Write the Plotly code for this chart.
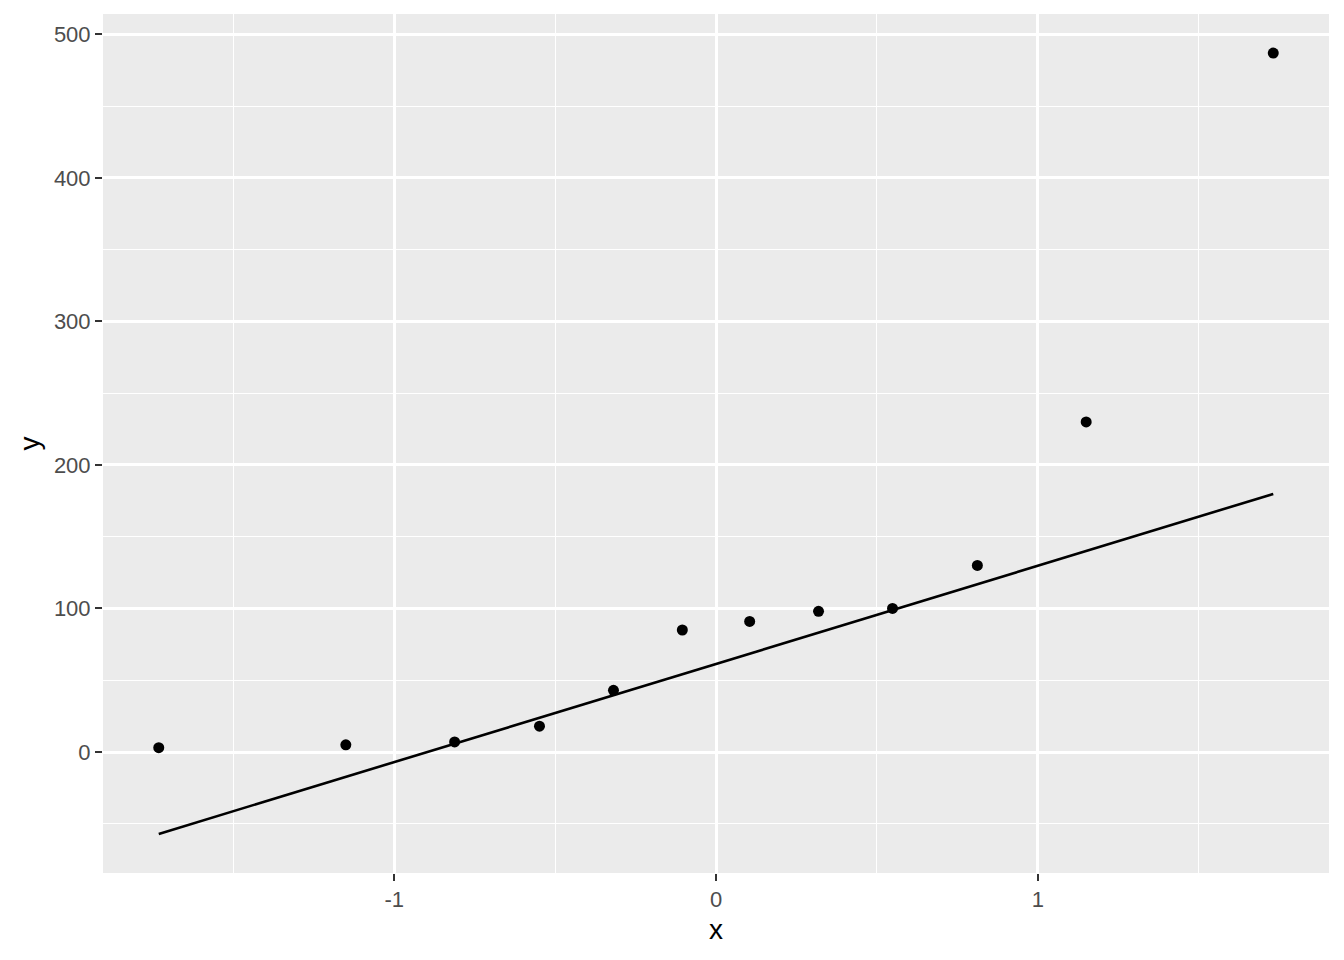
import plotly.graph_objects as go

theoretical = [-1.7317, -1.1503, -0.8122, -0.5485, -0.3186, -0.1046,
               0.1046, 0.3186, 0.5485, 0.8122, 1.1503, 1.7317]
sample = [3, 5, 7, 18, 43, 85, 91, 98, 100, 130, 230, 487]
line_x = [-1.7317, 1.7317]
line_y = [-57.08, 179.83]

x_ticks = [-1, 0, 1]
y_ticks = [0, 100, 200, 300, 400, 500]

FONT = "Liberation Sans, Arial"

fig = go.Figure()
fig.add_trace(go.Scatter(x=theoretical, y=sample, mode="markers",
                         marker=dict(color="black", size=11), showlegend=False))
fig.add_trace(go.Scatter(x=line_x, y=line_y, mode="lines",
                         line=dict(color="black", width=2.6), showlegend=False))

axis_common = dict(
    showgrid=True, gridcolor="white", gridwidth=2.6,
    zeroline=False, showline=False,
    ticks="outside", ticklen=7, tickwidth=2, tickcolor="#333333",
    tickfont=dict(family=FONT, size=22, color="#4D4D4D"),
)

fig.update_xaxes(range=[-1.9049, 1.9049], tickvals=x_ticks,
                 ticktext=[str(v) for v in x_ticks],
                 title=dict(text="x", font=dict(family=FONT, size=28, color="black"), standoff=7),
                 minor=dict(showgrid=True, gridcolor="white", gridwidth=1.3,
                            ticks="", tickvals=[-1.5, -0.5, 0.5, 1.5]),
                 **axis_common)
fig.update_yaxes(range=[-84.3, 514.2], tickvals=y_ticks,
                 ticktext=[str(v) for v in y_ticks],
                 title=dict(text="y", font=dict(family=FONT, size=28, color="black"), standoff=6),
                 minor=dict(showgrid=True, gridcolor="white", gridwidth=1.3,
                            ticks="", tickvals=[-50, 50, 150, 250, 350, 450]),
                 **axis_common)

fig.update_layout(
    width=1344, height=960,
    margin=dict(l=103, r=15, t=14, b=87),
    plot_bgcolor="#EBEBEB", paper_bgcolor="white",
    font=dict(family=FONT),
)

fig.write_html("out.html", config={"displayModeBar": False},
               post_script="document.body.style.margin='0';document.body.style.overflow='hidden';")
